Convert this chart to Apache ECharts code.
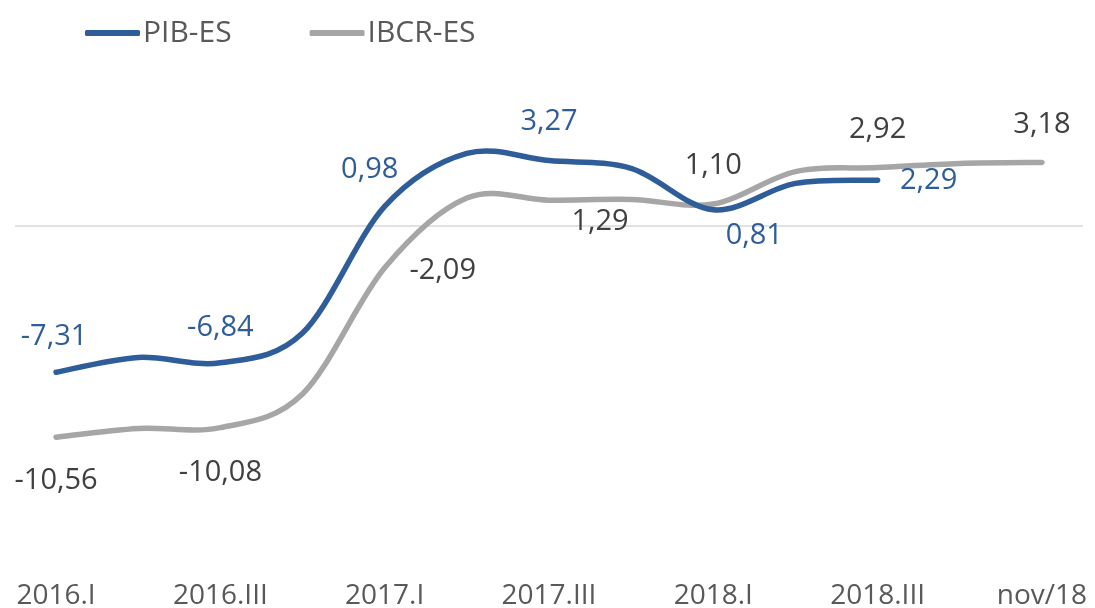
<!DOCTYPE html>
<html>
<head>
<meta charset="utf-8">
<script src="https://cdn.jsdelivr.net/npm/echarts@6/dist/echarts.min.js"></script>
<style>
html,body{margin:0;padding:0;background:#fff;}
#c{width:1095px;height:608px;}
</style>
</head>
<body>
<div id="c"></div>
<script>
// Data
const categories = ['2016.I','2016.II','2016.III','2016.IV','2017.I','2017.II','2017.III','2017.IV','2018.I','2018.II','2018.III','2018.IV','nov/18'];
const pibES  = [-7.31, -6.57, -6.84, -5.35, 0.98, 3.63, 3.27, 2.88, 0.81, 2.13, 2.29, null, null];
const ibcrES = [-10.56, -10.12, -10.08, -8.40, -2.09, 1.40, 1.29, 1.33, 1.10, 2.72, 2.92, 3.13, 3.18];
const seriesNames = ['PIB-ES', 'IBCR-ES'];

// Which points carry a value label, and where (offset of label centre from the point)
const pibLabels  = {0:[-2,-35], 2:[0,-35], 4:[-15,-37], 6:[0,-39], 8:[41,26], 10:[51,1]};
const ibcrLabels = {0:[0,44], 2:[0,45], 4:[58,3], 6:[51,22], 8:[0,-38], 10:[0,-38], 12:[0,-38]};

const BLUE = '#2E5D9A', GRAY = '#A6A6A6', FONT = '"Open Sans", "Noto Sans", sans-serif';
const fmt = v => v.toFixed(2).replace('.', ',');

function build(values, labels, color) {
  return values.map((v, i) => {
    if (v === null) return null;
    const off = labels[i];
    return {
      value: v,
      label: off ? {
        show: true, position: 'inside', offset: off,
        formatter: fmt(v), color: color, fontSize: 29, fontFamily: FONT
      } : {show: false}
    };
  });
}

// Smooth (Catmull-Rom style) curve through the data, positioned with the chart's own scales
function curveSeries(values, color, z) {
  return {
    type: 'custom', coordinateSystem: 'cartesian2d', silent: true, z: z,
    data: [[0, values[0]]],
    renderItem: function (params, api) {
      const pts = [];
      values.forEach((v, i) => { if (v !== null) pts.push(api.coord([i, v])); });
      let d = 'M' + pts[0][0] + ',' + pts[0][1];
      const t = 1 / 6;
      for (let i = 0; i < pts.length - 1; i++) {
        const p0 = pts[i - 1] || pts[i], p1 = pts[i], p2 = pts[i + 1], p3 = pts[i + 2] || pts[i + 1];
        const c1 = [p1[0] + (p2[0] - p0[0]) * t, p1[1] + (p2[1] - p0[1]) * t];
        const c2 = [p2[0] - (p3[0] - p1[0]) * t, p2[1] - (p3[1] - p1[1]) * t];
        d += ' C' + c1[0] + ',' + c1[1] + ' ' + c2[0] + ',' + c2[1] + ' ' + p2[0] + ',' + p2[1];
      }
      return {
        type: 'path',
        shape: {pathData: d},
        style: {fill: null, stroke: color, lineWidth: 5.5, lineCap: 'round', lineJoin: 'round'}
      };
    }
  };
}

const chart = echarts.init(document.getElementById('c'), null, {renderer: 'canvas'});
chart.setOption({
  animation: false,
  backgroundColor: '#fff',
  legend: {
    data: [
      {name: seriesNames[0], itemStyle: {color: BLUE}},
      {name: seriesNames[1], itemStyle: {color: GRAY}}
    ],
    left: 85, top: 18, padding: 0,
    icon: 'roundRect', itemWidth: 55, itemHeight: 6, itemGap: 78,
    textStyle: {color: '#595959', fontSize: 30, fontFamily: FONT, padding: [0,0,0,-2]}
  },
  grid: {left: 15, right: 12, top: 106, bottom: 608 - 566, outerBoundsMode: 'none', containLabel: false},
  xAxis: {
    type: 'category', data: categories, boundaryGap: true,
    axisLine: {show: false}, axisTick: {show: false}, splitLine: {show: false},
    axisLabel: {interval: 1, color: '#595959', fontSize: 28, fontFamily: FONT, margin: 16}
  },
  yAxis: {
    type: 'value', min: -17, max: 6, show: false, splitLine: {show: false}
  },
  series: [
    {
      name: seriesNames[0], type: 'line',
      data: build(pibES, pibLabels, BLUE),
      symbol: 'circle', symbolSize: 1, showSymbol: true, showAllSymbol: true,
      itemStyle: {color: BLUE},
      lineStyle: {color: BLUE, width: 1, opacity: 0},
      z: 5,
      markLine: {
        silent: true, symbol: 'none', label: {show: false},
        lineStyle: {color: '#D9D9D9', width: 1.5, type: 'solid'},
        data: [{yAxis: 0}], z: 1
      }
    },
    {
      name: seriesNames[1], type: 'line',
      data: build(ibcrES, ibcrLabels, '#404040'),
      symbol: 'circle', symbolSize: 1, showSymbol: true, showAllSymbol: true,
      itemStyle: {color: GRAY},
      lineStyle: {color: GRAY, width: 1, opacity: 0},
      z: 5
    },
    curveSeries(ibcrES, GRAY, 2),
    curveSeries(pibES, BLUE, 3)
  ]
});
</script>
</body>
</html>
